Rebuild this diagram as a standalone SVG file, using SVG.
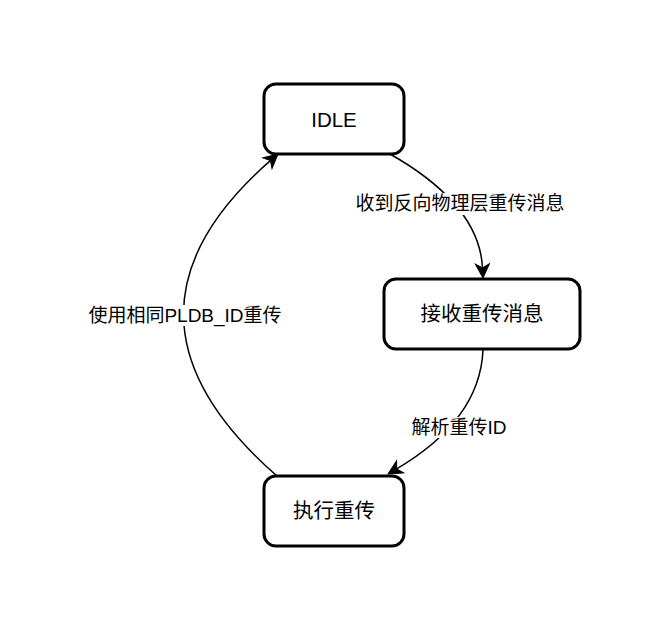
<svg xmlns="http://www.w3.org/2000/svg" width="663" height="620" viewBox="0 0 663 620">
<style>
.node rect{fill:#fff;stroke:#000;stroke-width:3}
text{font-family:"Liberation Sans","Noto Sans CJK SC",sans-serif;fill:#000;text-anchor:middle}
.nl{font-size:20.5px}
.el{font-size:19px}
.edge{fill:none;stroke:#000;stroke-width:1.5}
.lb{fill:#fff}
</style>
<defs>
<marker id="arr" markerUnits="userSpaceOnUse" markerWidth="18" markerHeight="18" refX="7" refY="8" orient="auto" viewBox="0 0 18 16">
<path d="M16,8 L2,1 L6,8 L2,15 Z" fill="#000" stroke="#000" stroke-width="1"/>
</marker>
</defs>
<rect width="663" height="620" fill="#fff"/>
<g id="connectors">
<path class="edge" d="M390,154 Q480,205 482.6,269" marker-end="url(#arr)"/>
<path class="edge" d="M483,350 Q480,420 395.8,469.4" marker-end="url(#arr)"/>
<path class="edge" d="M277,476 Q93,315 271.2,159.9" marker-end="url(#arr)"/>
<g id="label-e1"><rect class="lb" x="355" y="193" width="210" height="22"/><text class="el" x="460" y="210">收到反向物理层重传消息</text></g>
<g id="label-e2"><rect class="lb" x="412" y="417" width="94" height="21"/><text class="el" x="459" y="434">解析重传ID</text></g>
<g id="label-e3"><rect class="lb" x="87" y="305" width="196" height="21"/><text class="el" x="185" y="322">使用相同PLDB_ID重传</text></g>
</g>
<g id="node-idle" class="node"><rect x="264" y="84" width="140" height="70" rx="12"/><text class="nl" x="334" y="127">IDLE</text></g>
<g id="node-receive" class="node"><rect x="384" y="279" width="196" height="70" rx="12"/><text class="nl" x="482" y="321">接收重传消息</text></g>
<g id="node-execute" class="node"><rect x="264" y="476" width="140" height="70" rx="12"/><text class="nl" x="334" y="518">执行重传</text></g>
</svg>
